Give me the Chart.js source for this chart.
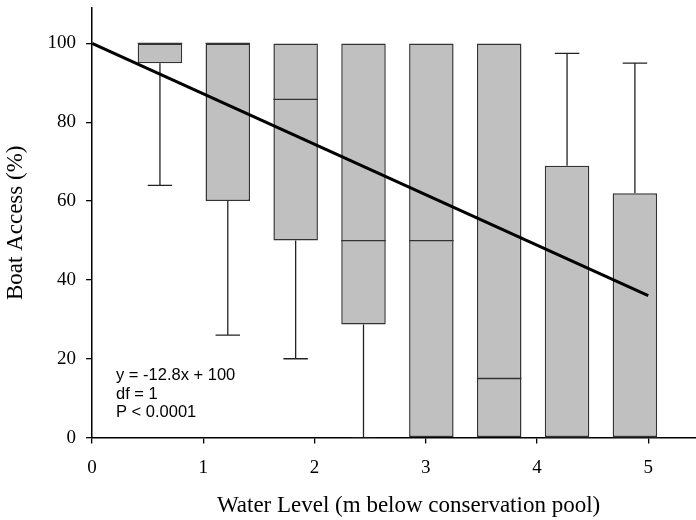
<!DOCTYPE html>
<html lang="en">

<head>
    <meta charset="UTF-8">
    <title>Boat Access</title>
    <script src="https://cdn.jsdelivr.net/npm/chart.js"></script>
    <style>
        html, body { margin: 0; padding: 0; background: #fff; overflow: hidden; }
        #wrap { width: 725px; height: 520px; }
    </style>
</head>

<body>
    <div id="wrap">
        <canvas id="grafico" width="725" height="520"></canvas>
    </div>
</body>

</html>

<script>

    // water level (m below conservation pool) for each box
    var niveis = [0.61, 1.22, 1.83, 2.44, 3.05, 3.66, 4.27, 4.88];
    // box plot values (% boat access)
    var quartil1 = [95, 60, 50, 28.7, 0, 0, 0, 0];
    var quartil3 = [100, 100, 100, 100, 100, 100, 69, 62];
    var mediana = [100, 100, 85.8, 50, 50, 15, 0, 0];
    var bigodeMin = [64, 26, 20, 0, 0, 0, 0, 0];
    var bigodeMax = [100, 100, 100, 100, 100, 100, 97.5, 95];

    // regression line  y = -12.8x + 100
    var regX = [0, 5];
    var regY = [100, 36];

    var ticksY = [0, 20, 40, 60, 80, 100];
    var ticksX = [0, 1, 2, 3, 4, 5];

    var textoReg = ["y = -12.8x + 100", "df = 1", "P < 0.0001"];

    var meiaCaixa = 0.2;
    var meiaTampa = 0.11;

    // whisker segments, separated by null points
    var bigodes = [];
    for (let i = 0; i < niveis.length; i++) {
        var x = niveis[i];
        if (bigodeMin[i] < quartil1[i]) {
            bigodes.push({ x: x, y: quartil1[i] }, { x: x, y: bigodeMin[i] }, { x: x, y: null });
            bigodes.push({ x: x - meiaTampa, y: bigodeMin[i] }, { x: x + meiaTampa, y: bigodeMin[i] }, { x: x, y: null });
        }
        if (bigodeMax[i] > quartil3[i]) {
            bigodes.push({ x: x, y: quartil3[i] }, { x: x, y: bigodeMax[i] }, { x: x, y: null });
            bigodes.push({ x: x - meiaTampa, y: bigodeMax[i] }, { x: x + meiaTampa, y: bigodeMax[i] }, { x: x, y: null });
        }
    }

    var medianas = [];
    for (let i = 0; i < niveis.length; i++) {
        medianas.push({ x: niveis[i] - meiaCaixa, y: mediana[i] }, { x: niveis[i] + meiaCaixa, y: mediana[i] }, { x: niveis[i], y: null });
    }

    var caixas = [];
    for (let i = 0; i < niveis.length; i++) {
        caixas.push({ x: niveis[i], y: [quartil1[i], quartil3[i]] });
    }

    var linhaReg = [];
    for (let i = 0; i < regX.length; i++) {
        linhaReg.push({ x: regX[i], y: regY[i] });
    }

    const textoPlugin = {
        id: 'textoReg',
        afterDraw(chart) {
            const ctx = chart.ctx;
            const xs = chart.scales.x;
            const ys = chart.scales.y;
            ctx.save();
            ctx.fillStyle = '#000';
            ctx.font = '16.5px "Liberation Sans", Arial, sans-serif';
            ctx.textBaseline = 'alphabetic';
            var x0 = xs.getPixelForValue(0.215);
            var y0 = ys.getPixelForValue(14.6);
            for (let i = 0; i < textoReg.length; i++) {
                ctx.fillText(textoReg[i], x0, y0 + i * 18.5);
            }
            ctx.restore();
        }
    };

    // no extra room for the edge tick labels
    function semPadding(scale) {
        scale.paddingTop = 0;
        scale.paddingBottom = 0;
        scale.paddingLeft = 0;
        scale.paddingRight = 0;
    }

    var fonteSerif = '"Liberation Serif", "Times New Roman", serif';

    new Chart(document.getElementById('grafico'), {
        type: 'bar',
        data: {
            datasets: [
                {
                    type: 'line',
                    data: linhaReg,
                    borderColor: '#000',
                    borderWidth: 3,
                    pointRadius: 0,
                    order: 0
                },
                {
                    type: 'line',
                    data: medianas,
                    borderColor: '#333',
                    borderWidth: 1.3,
                    pointRadius: 0,
                    spanGaps: false,
                    order: 1
                },
                {
                    type: 'bar',
                    data: caixas,
                    backgroundColor: '#c0c0c0',
                    borderColor: '#333',
                    borderWidth: 1.5,
                    borderSkipped: false,
                    categoryPercentage: 0.656,
                    barPercentage: 1,
                    order: 2
                },
                {
                    type: 'line',
                    data: bigodes,
                    borderColor: '#222',
                    borderWidth: 1.3,
                    pointRadius: 0,
                    spanGaps: false,
                    order: 3
                }
            ]
        },
        options: {
            responsive: false,
            animation: false,
            layout: { padding: { left: 2, top: 8, right: 0, bottom: 0 } },
            plugins: {
                legend: { display: false },
                tooltip: { enabled: false }
            },
            scales: {
                x: {
                    type: 'linear',
                    min: 0,
                    max: 5.69,
                    offset: false,
                    grid: { offset: false, drawOnChartArea: false, drawTicks: true, tickLength: 6, color: '#000', lineWidth: 1.3 },
                    border: { display: true, color: '#000', width: 1.5 },
                    afterBuildTicks: function (axis) {
                        axis.ticks = ticksX.map(v => ({ value: v }));
                    },
                    afterFit: semPadding,
                    ticks: {
                        color: '#000',
                        padding: 13,
                        maxRotation: 0,
                        font: { family: fonteSerif, size: 19 }
                    },
                    title: {
                        display: true,
                        text: 'Water Level (m below conservation pool)',
                        color: '#000',
                        padding: { top: 0, bottom: 0 },
                        font: { family: fonteSerif, size: 23 }
                    }
                },
                y: {
                    min: 0,
                    max: 109,
                    grid: { drawOnChartArea: false, drawTicks: true, tickLength: 6, color: '#000', lineWidth: 1.3 },
                    border: { display: true, color: '#000', width: 1.5 },
                    afterBuildTicks: function (axis) {
                        axis.ticks = ticksY.map(v => ({ value: v }));
                    },
                    afterFit: semPadding,
                    ticks: {
                        color: '#000',
                        padding: 10,
                        font: { family: fonteSerif, size: 19 }
                    },
                    title: {
                        display: true,
                        text: 'Boat Access (%)',
                        color: '#000',
                        padding: { top: 0, bottom: 8 },
                        font: { family: fonteSerif, size: 23 }
                    }
                }
            }
        },
        plugins: [textoPlugin]
    });

</script>
